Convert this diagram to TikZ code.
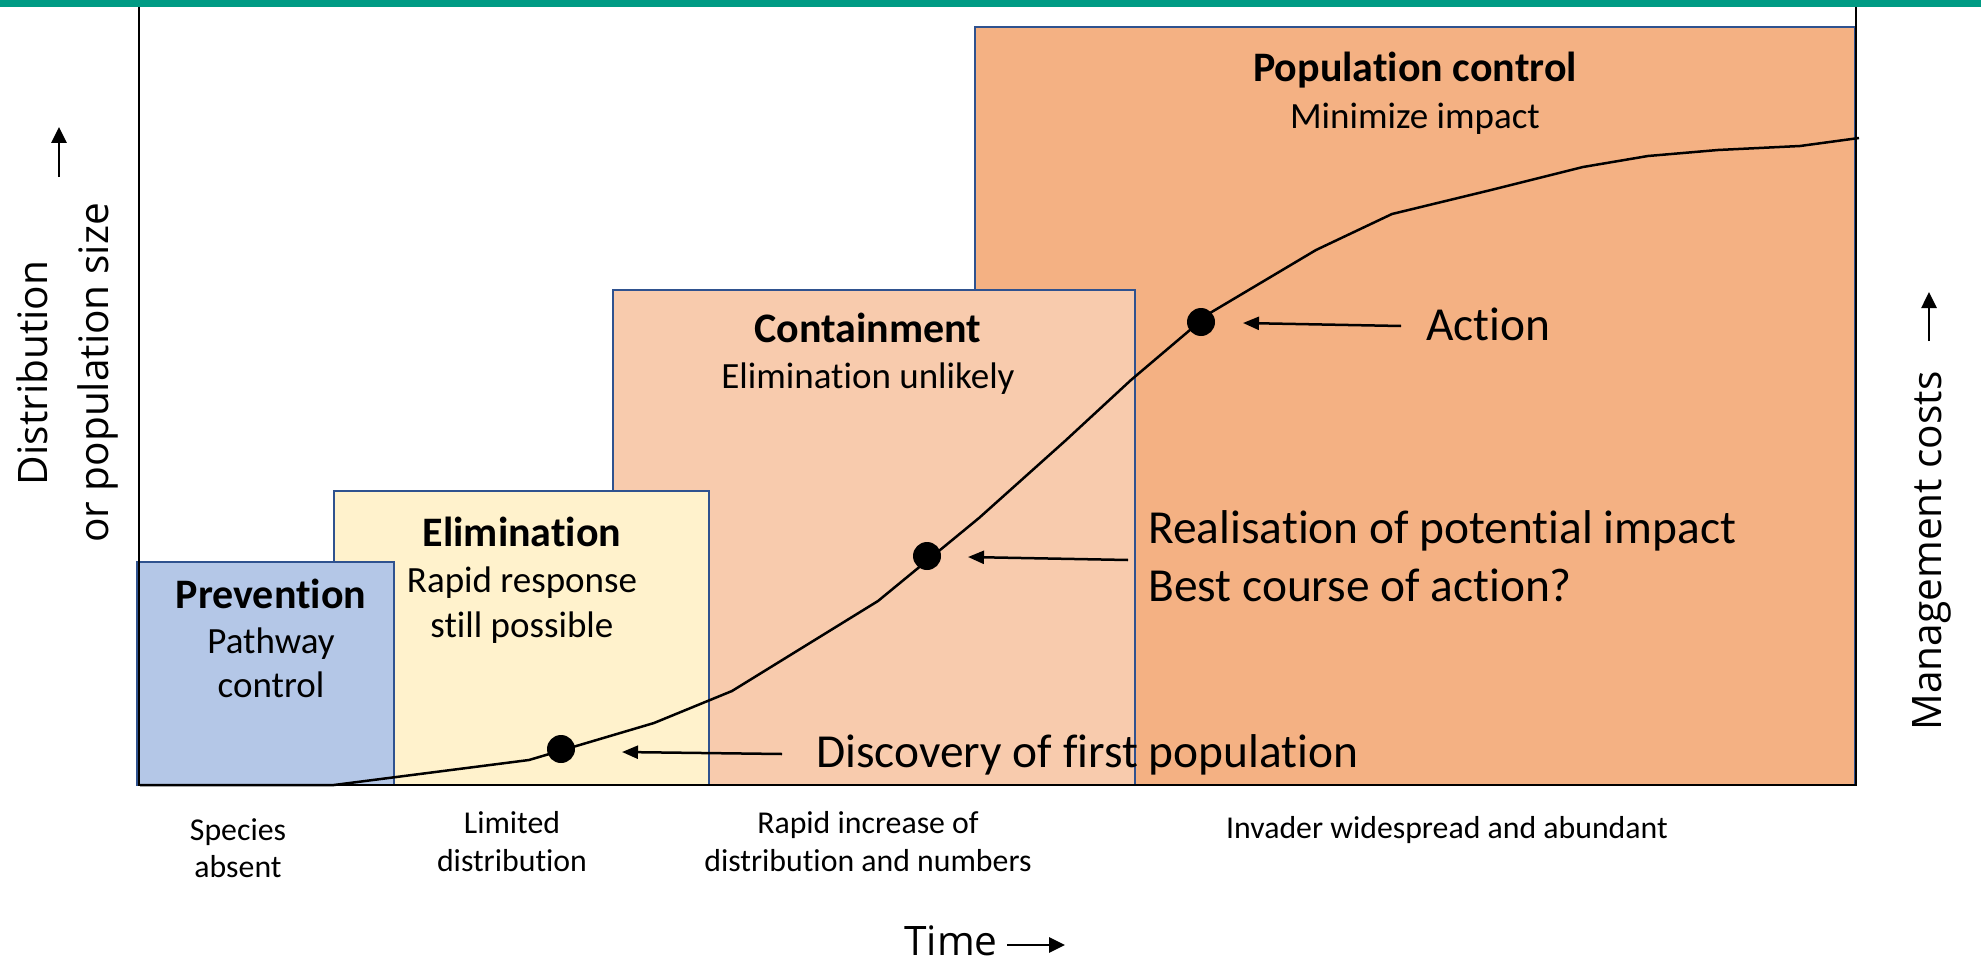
\documentclass[tikz,border=0pt]{standalone}
\usepackage{fontspec}
\setmainfont{Carlito}[Ligatures={NoCommon}]
\newfontfamily\axisfont{Open Sans}[Ligatures={NoCommon}]
\usetikzlibrary{arrows.meta}
\definecolor{topbar}{RGB}{0,155,132}
\definecolor{boxline}{RGB}{47,82,143}
\definecolor{prevfill}{RGB}{180,199,231}
\definecolor{elimfill}{RGB}{255,242,204}
\definecolor{contfill}{RGB}{248,203,173}
\definecolor{popfill}{RGB}{244,177,131}
\begin{document}
\begin{tikzpicture}[x=0.5pt,y=-0.5pt,
  box/.style={draw=boxline, line width=1pt},
  head/.style={font=\fontsize{21}{25}\selectfont\bfseries, anchor=base, inner sep=0},
  sub/.style={font=\fontsize{18.5}{22}\selectfont, anchor=base, inner sep=0},
  big/.style={font=\fontsize{23.7}{28}\selectfont, anchor=base west, inner sep=0},
  small/.style={font=\fontsize{15.9}{19}\selectfont, anchor=base, inner sep=0},
  axl/.style={font=\axisfont\fontsize{20.3}{24}\selectfont, anchor=base, inner sep=0},
  dot/.style={circle, fill=black, minimum size=14pt, inner sep=0},
  ptr/.style={line width=1.25pt, -{Triangle[length=8pt,width=6.5pt]}},
  axarrow/.style={line width=1.35pt, -{Triangle[length=8pt,width=7.5pt]}},
]
\useasboundingbox (0,0) rectangle (1981,963);
\fill[topbar] (0,0) rectangle (1981,7);

% boxes
\draw[box, fill=popfill] (975,27) rectangle (1855,785);
\draw[box, fill=contfill] (613,290) rectangle (1135,785);
\draw[box, fill=elimfill] (334,491) rectangle (709,785);
\draw[box, fill=prevfill] (137,562) rectangle (394,785);

% axes
\draw[line width=0.75pt] (139,7) -- (139,785) -- (1856,785) -- (1856,7);

% curve
\draw[line width=1.25pt, line join=round]
  (140,785) -- (334,785) -- (529,760) -- (654,723) -- (732,691) -- (878,601)
  -- (979,518) -- (1065,441) -- (1131,380) -- (1210,313) -- (1316,250)
  -- (1392,214) -- (1491,190) -- (1583,167) -- (1648,156) -- (1718,150)
  -- (1800,146) -- (1859,138);

% dots
\node[dot] (d1) at (561,749) {};
\node[dot] (d2) at (927,556) {};
\node[dot] (d3) at (1201,322) {};

% pointer arrows
\coordinate (t1) at (782,754); \coordinate (h1) at (622,752);
\coordinate (t2) at (1128,560); \coordinate (h2) at (968,557);
\coordinate (t3) at (1401,326); \coordinate (h3) at (1243,323);
\draw[ptr] (t1) -- (h1);
\draw[ptr] (t2) -- (h2);
\draw[ptr] (t3) -- (h3);

% box texts
\node[head] (prevh) at (271,608) {Prevention};
\node[sub] (prev1) at (271,653) {Pathway};
\node[sub] (prev2) at (271,697) {control};
\node[head] (elimh) at (522,546) {Elimination};
\node[sub] (elim1) at (522,592) {Rapid response};
\node[sub] (elim2) at (522,637) {still possible};
\node[head] (conth) at (868,342) {Containment};
\node[sub] (cont1) at (868,388) {Elimination unlikely};
\node[head] (poph) at (1415,82) {Population control};
\node[sub] (pop1) at (1415,128) {Minimize impact};

% annotations
\node[big] (disc) at (816,767) {Discovery of first population};
\node[big] (real) at (1148,543) {Realisation of potential impact};
\node[big] (best) at (1148,601) {Best course of action?};
\node[big] (act) at (1426,340) {Action};

% bottom labels
\node[small] (sp1) at (238,840) {Species};
\node[small] (sp2) at (238,877) {absent};
\node[small] (li1) at (512,833) {Limited};
\node[small] (li2) at (512,871) {distribution};
\node[small] (ra1) at (868,833) {Rapid increase of};
\node[small] (ra2) at (868,871) {distribution and numbers};
\node[small] (inv) at (1447,838) {Invader widespread and abundant};

% axis labels
\node[axl, rotate=90] (yl1) at (47,373) {Distribution};
\node[axl, rotate=90] (yl2) at (108,373) {or population size};
\coordinate (ya0) at (59,177); \coordinate (ya1) at (59,127);
\draw[axarrow] (ya0) -- (ya1);
\node[axl, rotate=90] (yr) at (1941,551) {Management costs};
\coordinate (yr0) at (1929,341); \coordinate (yr1) at (1929,292);
\draw[axarrow] (yr0) -- (yr1);
\node[axl, anchor=base east] (time) at (998,955) {Time};
\coordinate (ta0) at (1007,945); \coordinate (ta1) at (1065,945);
\draw[axarrow] (ta0) -- (ta1);
\end{tikzpicture}
\end{document}
